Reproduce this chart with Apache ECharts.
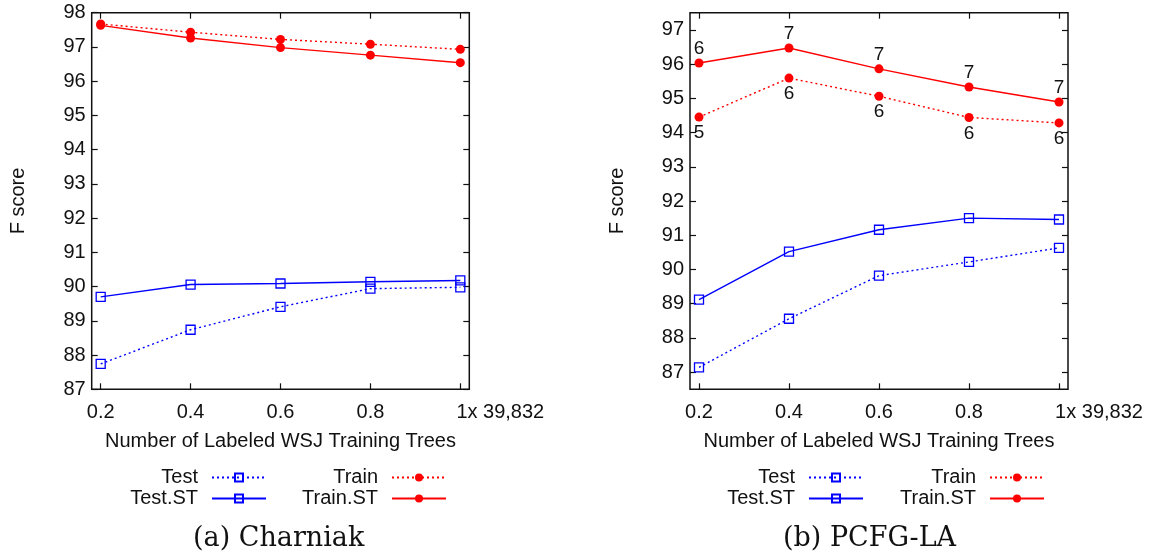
<!DOCTYPE html>
<html>
<head>
<meta charset="utf-8">
<script src="https://cdn.jsdelivr.net/npm/echarts@6/dist/echarts.min.js"></script>
<style>
  html, body { margin: 0; padding: 0; background: #fff; }
  #chart { width: 1157px; height: 552px; }
</style>
</head>
<body>
<div id="chart"></div>
<script>
// ---- data ----
const xValues = [0.2, 0.4, 0.6, 0.8, 1.0];
const xTickValues = [0.2, 0.4, 0.6, 0.8, 1.0];
const xTickLabels = ['0.2', '0.4', '0.6', '0.8', '1x 39,832'];

const charniakTest    = [87.74, 88.74, 89.41, 89.94, 89.98];
const charniakTestST  = [89.70, 90.06, 90.09, 90.14, 90.18];
const charniakTrain   = [97.67, 97.43, 97.22, 97.08, 96.93];
const charniakTrainST = [97.63, 97.26, 96.98, 96.76, 96.54];

const pcfgTest    = [87.14, 88.56, 89.82, 90.22, 90.63];
const pcfgTestST  = [89.12, 90.52, 91.16, 91.50, 91.46];
const pcfgTrain   = [94.45, 95.59, 95.06, 94.44, 94.28];
const pcfgTrainST = [96.03, 96.47, 95.86, 95.33, 94.89];
const pcfgTrainLabels   = ['5', '6', '6', '6', '6'];
const pcfgTrainSTLabels = ['6', '7', '7', '7', '7'];

const leftYTicks  = [87, 88, 89, 90, 91, 92, 93, 94, 95, 96, 97, 98];
const rightYTicks = [87, 88, 89, 90, 91, 92, 93, 94, 95, 96, 97];

const xAxisTitle = 'Number of Labeled WSJ Training Trees';
const yAxisTitle = 'F score';
const captions = ['(a) Charniak', '(b) PCFG-LA'];

// ---- styling ----
const FONT = 'Liberation Sans';
const INK = '#111';
const BLUE = '#0000ff';
const RED = '#ff0000';

function pairs(ys) { return xValues.map((x, i) => [x, ys[i]]); }

function xLabelFormatter(v) {
  const idx = xTickValues.findIndex(t => Math.abs(t - v) < 1e-9);
  if (idx === xTickValues.length - 1) return '{last|' + xTickLabels[idx] + '}';
  return idx >= 0 ? xTickLabels[idx] : '';
}

function bottomX(gridIndex) {
  return {
    gridIndex, type: 'value', min: 0.18, max: 1.02, position: 'bottom',
    axisLine: { show: false }, splitLine: { show: false },
    axisTick: { show: true, inside: true, length: 6, customValues: xTickValues, lineStyle: { color: INK, width: 1.2 } },
    axisLabel: {
      customValues: xTickValues, formatter: xLabelFormatter, margin: 13,
      fontFamily: FONT, fontSize: 20, color: INK,
      rich: { last: { fontFamily: FONT, fontSize: 20, color: INK, padding: [0, 0, 0, 80] } }
    },
    name: xAxisTitle, nameLocation: 'middle', nameGap: 42,
    nameTextStyle: { fontFamily: FONT, fontSize: 20, color: INK }
  };
}
function topX(gridIndex) {
  return {
    gridIndex, type: 'value', min: 0.18, max: 1.02, position: 'top',
    axisLine: { show: false }, splitLine: { show: false }, axisLabel: { show: false },
    axisTick: { show: true, inside: true, length: 6, customValues: xTickValues, lineStyle: { color: INK, width: 1.2 } }
  };
}
function leftY(gridIndex, min, max, ticks) {
  return {
    gridIndex, type: 'value', min, max, position: 'left',
    axisLine: { show: false }, splitLine: { show: false },
    axisTick: { show: true, inside: true, length: 6, customValues: ticks, lineStyle: { color: INK, width: 1.2 } },
    axisLabel: { customValues: ticks, margin: 6, fontFamily: FONT, fontSize: 20, color: INK },
    name: yAxisTitle, nameLocation: 'middle', nameGap: 63, nameRotate: 90,
    nameTextStyle: { fontFamily: FONT, fontSize: 20, color: INK }
  };
}
function rightY(gridIndex, min, max, ticks) {
  return {
    gridIndex, type: 'value', min, max, position: 'right',
    axisLine: { show: false }, splitLine: { show: false }, axisLabel: { show: false },
    axisTick: { show: true, inside: true, length: 6, customValues: ticks, lineStyle: { color: INK, width: 1.2 } }
  };
}

function lineSeries(name, gi, ys, color, dotted, symbol, extra) {
  return Object.assign({
    name, type: 'line', xAxisIndex: gi, yAxisIndex: gi, data: pairs(ys),
    symbol: symbol, symbolSize: symbol === 'circle' ? 9 : 9,
    color: color,
    itemStyle: symbol === 'circle' ? { color: color } : { color: 'rgba(255,255,255,0)', borderColor: color, borderWidth: 1.3 },
    lineStyle: { color: color, width: 1.4, type: dotted ? [2, 3] : 'solid' },
    animation: false
  }, extra || {});
}

function labelCfg(labels, position, distance) {
  return {
    label: {
      show: true, position, distance,
      formatter: p => labels[p.dataIndex],
      fontFamily: FONT, fontSize: 19, color: INK
    }
  };
}

function legendItem(name, right, top) {
  return {
    data: [name], align: 'right', right, top, orient: 'horizontal',
    itemWidth: 54, itemHeight: 10, padding: 0, itemGap: 0, selectedMode: false,
    textStyle: { fontFamily: FONT, fontSize: 20, color: INK, padding: [0, 9, 0, 0] }
  };
}

const option = {
  animation: false,
  backgroundColor: '#fff',
  grid: [
    { left: 91.7, right: 687.7, top: 12.7, bottom: 162.7, show: true, borderColor: INK, borderWidth: 1.5, backgroundColor: 'transparent' },
    { left: 690, right: 89, top: 12.7, bottom: 162.7, show: true, borderColor: INK, borderWidth: 1.5, backgroundColor: 'transparent' }
  ],
  xAxis: [bottomX(0), bottomX(1), topX(0), topX(1)],
  yAxis: [
    leftY(0, 87, 98, leftYTicks), leftY(1, 86.5, 97.5, rightYTicks),
    rightY(0, 87, 98, leftYTicks), rightY(1, 86.5, 97.5, rightYTicks)
  ],
  legend: [
    legendItem('Test', 890, 467.5), legendItem('Test.ST', 890, 488.5),
    legendItem('Train', 710, 467.5), legendItem('Train.ST', 710, 488.5),
    legendItem('Test', 293, 467.5), legendItem('Test.ST', 293, 488.5),
    legendItem('Train', 112, 467.5), legendItem('Train.ST', 112, 488.5)
  ],
  series: [
    lineSeries('Test', 0, charniakTest, BLUE, true, 'rect'),
    lineSeries('Test.ST', 0, charniakTestST, BLUE, false, 'rect'),
    lineSeries('Train', 0, charniakTrain, RED, true, 'circle'),
    lineSeries('Train.ST', 0, charniakTrainST, RED, false, 'circle'),
    lineSeries('Test', 1, pcfgTest, BLUE, true, 'rect'),
    lineSeries('Test.ST', 1, pcfgTestST, BLUE, false, 'rect'),
    lineSeries('Train', 1, pcfgTrain, RED, true, 'circle', labelCfg(pcfgTrainLabels, 'bottom', 2)),
    lineSeries('Train.ST', 1, pcfgTrainST, RED, false, 'circle', labelCfg(pcfgTrainSTLabels, 'top', 0))
  ],
  graphic: [
    { type: 'text', left: 193, top: 525, style: { text: captions[0], font: '27px "DejaVu Serif"', fill: INK } },
    { type: 'text', left: 783, top: 525, style: { text: captions[1], font: '27px "DejaVu Serif"', fill: INK } }
  ]
};

const chart = echarts.init(document.getElementById('chart'), null, { renderer: 'canvas' });
chart.setOption(option);
</script>
</body>
</html>
